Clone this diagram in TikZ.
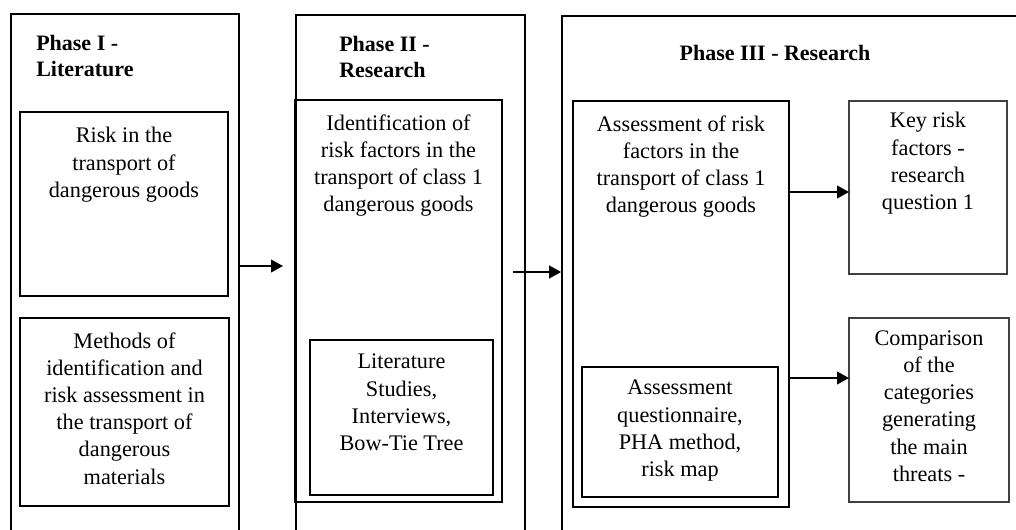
\documentclass[tikz,border=0pt]{standalone}
\usepackage{fontspec}
\setmainfont{Liberation Serif}
\usetikzlibrary{arrows.meta,fit,calc}
\begin{document}
\begin{tikzpicture}[x=0.75pt,y=-0.75pt,
  box/.style={draw,line width=1.25pt,inner sep=0pt},
  ibox/.style={draw,line width=1.6pt,inner sep=0pt},
  rbox/.style={draw=black!75,line width=1.1pt,inner sep=0pt},
  txt/.style={align=center,inner sep=0pt,anchor=north,font=\fontsize{16.7}{20.4}\selectfont},
  ttl/.style={align=left,inner sep=0pt,font=\fontsize{16.5}{19.5}\selectfont\bfseries},
  arr/.style={line width=1.5pt,-{Triangle[length=9pt,width=9.5pt]}}]
\useasboundingbox (0,0) rectangle (1016,529);
\clip (0,0) rectangle (1016,529);
% outer phase boxes
\node[box,fit={(11,14) (239,545)}] (p1) {};
\node[box,fit={(296,15) (525,545)}] (p2) {};
\node[box,fit={(562,16) (1040,545)}] (p3) {};
% titles
\node[ttl,anchor=north west] (t1) at (36,35) {Phase I -\\Literature};
\node[ttl,anchor=north west] (t2) at (339,36) {Phase II -\\Research};
\node[ttl,anchor=base] (t3) at (775,60) {Phase III - Research};
% phase I
\node[box,fit={(20,112) (228,296)}] (b1) {};
\node[txt] (b1t) at ($(b1.north)+(0,16)$) {Risk in the\\transport of\\dangerous goods};
\node[box,fit={(20,318) (229,506)}] (b2) {};
\node[txt] (b2t) at ($(b2.north)+(0,15)$) {Methods of\\identification and\\risk assessment in\\the transport of\\dangerous\\materials};
% phase II
\node[box,fit={(295,100) (502,502)}] (b3) {};
\node[txt] (b3t) at ($(b3.north)+(0,15)$) {Identification of\\risk factors in the\\transport of class 1\\dangerous goods};
\node[ibox,fit={(310,340) (493,495)}] (b4) {};
\node[txt] (b4t) at ($(b4.north)+(0,15)$) {Literature\\Studies,\\Interviews,\\Bow-Tie Tree};
% phase III
\node[box,fit={(573,101) (789,507)}] (a) {};
\node[txt] (at) at ($(a.north)+(0,15)$) {Assessment of risk\\factors in the\\transport of class 1\\dangerous goods};
\node[ibox,fit={(582,367) (778,497)}] (ai) {};
\node[txt] (ait) at ($(ai.north)+(0,14)$) {Assessment\\questionnaire,\\PHA method,\\risk map};
\node[rbox,fit={(849,101) (1007,274)}] (k) {};
\node[txt] (kt) at ($(k.north)+(0,12)$) {Key risk\\factors -\\research\\question 1};
\node[rbox,fit={(849,318) (1009,502)}] (c) {};
\node[txt] (ct) at ($(c.north)+(0,13)$) {Comparison\\of the\\categories\\generating\\the main\\threats -};
% connectors
\coordinate (e1) at (283,266);
\draw[arr] (p1.east |- e1) -- (e1);
\coordinate (s2) at (513,272);
\draw[arr] (s2) -- (s2 -| p3.west);
\coordinate (e3) at (849,192);
\draw[arr] (a.east |- e3) -- (e3);
\coordinate (e4) at (849,378);
\draw[arr] (a.east |- e4) -- (e4);
\end{tikzpicture}
\end{document}
